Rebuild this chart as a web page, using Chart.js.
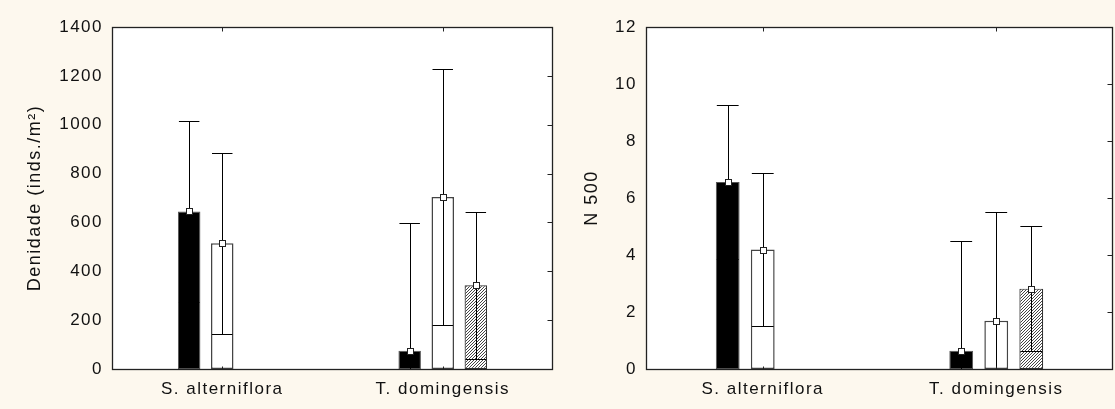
<!DOCTYPE html>
<html>
<head>
<meta charset="utf-8">
<script src="https://cdn.jsdelivr.net/npm/chart.js@4.4.1/dist/chart.umd.min.js"></script>
<style>
    html, body { margin: 0; padding: 0; background: #fdf8ee; }
    #wrap { position: relative; width: 1115px; height: 409px; background: #fdf8ee; }
    canvas { position: absolute; top: 0; }
    #densChart { left: 0; }
    #nChart { left: 560px; }
</style>
</head>
<body>
<div id="wrap">
    <canvas id="densChart" width="560" height="409"></canvas>
    <canvas id="nChart" width="555" height="409"></canvas>
</div>
<script>
// categories on the x axis
const categories = ['S. alterniflora', 'T. domingensis'];

// left panel: density (inds./m2), mean and error per group
const densBlack = [645, 75];
const densWhite = [515, 704];
const densHatched = [null, 343];
const densBlackErr = [371, 523];
const densWhiteErr = [370, 523];
const densHatchedErr = [null, 301];
const densMax = 1400;
const densStep = 200;

// right panel: N 500
const nBlack = [6.56, 0.64];
const nWhite = [4.19, 1.69];
const nHatched = [null, 2.82];
const nBlackErr = [2.70, 3.84];
const nWhiteErr = [2.68, 3.83];
const nHatchedErr = [null, 2.20];
const nMax = 12;
const nStep = 2;

const FONT = "'Liberation Sans', Arial, sans-serif";
const INK = '#111';

// fine diagonal hatch for the third group
function hatchPattern() {
    const c = document.createElement('canvas');
    c.width = 3; c.height = 3;
    const g = c.getContext('2d');
    g.fillStyle = '#fff';
    g.fillRect(0, 0, 3, 3);
    g.fillStyle = '#444';
    g.fillRect(0, 2, 1, 1);
    g.fillRect(1, 1, 1, 1);
    g.fillRect(2, 0, 1, 1);
    return g.createPattern(c, 'repeat');
}
const hatch = hatchPattern();

const spacing = {
    id: 'spacing',
    beforeUpdate(chart) { chart.ctx.letterSpacing = '1.5px'; },
    beforeDraw(chart) { chart.ctx.letterSpacing = '1.5px'; }
};

const plotBg = {
    id: 'plotBg',
    beforeDatasetsDraw(chart) {
        const a = chart.chartArea, ctx = chart.ctx;
        ctx.save();
        ctx.fillStyle = '#fff';
        ctx.fillRect(a.left, a.top, a.right - a.left, a.bottom - a.top);
        ctx.restore();
    }
};

const errorBars = {
    id: 'errorBars',
    afterDatasetsDraw(chart) {
        const ctx = chart.ctx, y = chart.scales.y, a = chart.chartArea;
        const marks = [];
        ctx.save();
        ctx.strokeStyle = '#000';
        ctx.lineWidth = 1;
        chart.data.datasets.forEach((ds, i) => {
            chart.getDatasetMeta(i).data.forEach((bar, j) => {
                const v = ds.data[j], e = ds.errors[j];
                if (v == null || e == null) return;
                const x = Math.round(bar.x) + 0.5;
                const half = bar.width / 2 - 1;
                const hi = Math.round(y.getPixelForValue(v + e)) + 0.5;
                const lo = v - e;
                const yLo = lo > 0 ? Math.round(y.getPixelForValue(lo)) + 0.5 : a.bottom;
                ctx.beginPath();
                ctx.moveTo(x, yLo); ctx.lineTo(x, hi);
                ctx.moveTo(bar.x - half, hi); ctx.lineTo(bar.x + half, hi);
                if (lo > 0) { ctx.moveTo(bar.x - half, yLo); ctx.lineTo(bar.x + half, yLo); }
                ctx.stroke();
                marks.push([x, Math.round(bar.y) + 0.5]);
            });
        });
        // mean markers
        ctx.fillStyle = '#fff';
        ctx.strokeStyle = '#222';
        marks.forEach(([x, yy]) => {
            ctx.fillRect(x - 3, yy - 3, 6, 6);
            ctx.strokeRect(x - 3, yy - 3, 6, 6);
        });
        ctx.restore();
    }
};

const frame = {
    id: 'frame',
    afterDraw(chart) {
        const a = chart.chartArea, ctx = chart.ctx;
        const l = a.left + 0.5, r = a.right - 0.5, t = a.top + 0.5, b = a.bottom + 0.5;
        ctx.save();
        ctx.strokeStyle = '#222';
        ctx.lineWidth = 1.3;
        ctx.strokeRect(l, t, r - l, b - t);
        ctx.lineWidth = 1;
        ctx.beginPath();
        chart.scales.y.ticks.forEach(tk => {
            const py = Math.round(chart.scales.y.getPixelForValue(tk.value)) + 0.5;
            ctx.moveTo(r - 5, py); ctx.lineTo(r, py);
        });
        chart.scales.x.ticks.forEach((tk, i) => {
            const px = Math.round(chart.scales.x.getPixelForValue(i)) + 0.5;
            ctx.moveTo(px, t); ctx.lineTo(px, t + 4);
            ctx.moveTo(px, b); ctx.lineTo(px, b - 3);
        });
        ctx.stroke();
        ctx.restore();
    }
};

function makeChart(id, series, errors, max, step, title, yWidth, padRight, titlePad) {
    const styles = [
        {backgroundColor: '#000', borderColor: '#555', borderWidth: 1},
        {backgroundColor: '#fff', borderColor: '#444', borderWidth: 1.5},
        {backgroundColor: hatch, borderColor: '#333', borderWidth: 1.2}
    ];
    return new Chart(document.getElementById(id), {
        type: 'bar',
        data: {
            labels: categories,
            datasets: series.map((s, i) => Object.assign({
                data: s,
                errors: errors[i],
                borderSkipped: false,
                categoryPercentage: 0.45,
                barPercentage: 0.68
            }, styles[i]))
        },
        options: {
            responsive: false,
            animation: false,
            layout: {padding: {top: 27, right: padRight, bottom: 0, left: 0}},
            plugins: {legend: {display: false}, tooltip: {enabled: false}},
            scales: {
                x: {
                    grid: {display: false, drawTicks: false},
                    border: {display: false},
                    ticks: {color: INK, font: {family: FONT, size: 17}, padding: 10, maxRotation: 0},
                    afterFit(s) { s.height = 40; }
                },
                y: {
                    min: 0, max: max,
                    grid: {display: false, drawTicks: false},
                    border: {display: false},
                    ticks: {stepSize: step, color: INK, font: {family: FONT, size: 17}, padding: 9,
                        callback: v => String(v)},
                    title: {display: true, text: title, color: INK, font: {family: FONT, size: 18},
                        padding: {top: titlePad, bottom: 0}},
                    afterFit(s) { s.width = yWidth; }
                }
            }
        },
        plugins: [spacing, plotBg, errorBars, frame]
    });
}

makeChart('densChart',
    [densBlack, densWhite, densHatched],
    [densBlackErr, densWhiteErr, densHatchedErr],
    densMax, densStep, 'Denidade (inds./m²)', 112, 7, 24);

makeChart('nChart',
    [nBlack, nWhite, nHatched],
    [nBlackErr, nWhiteErr, nHatchedErr],
    nMax, nStep, 'N 500', 86, 2, 21);
</script>
</body>
</html>
